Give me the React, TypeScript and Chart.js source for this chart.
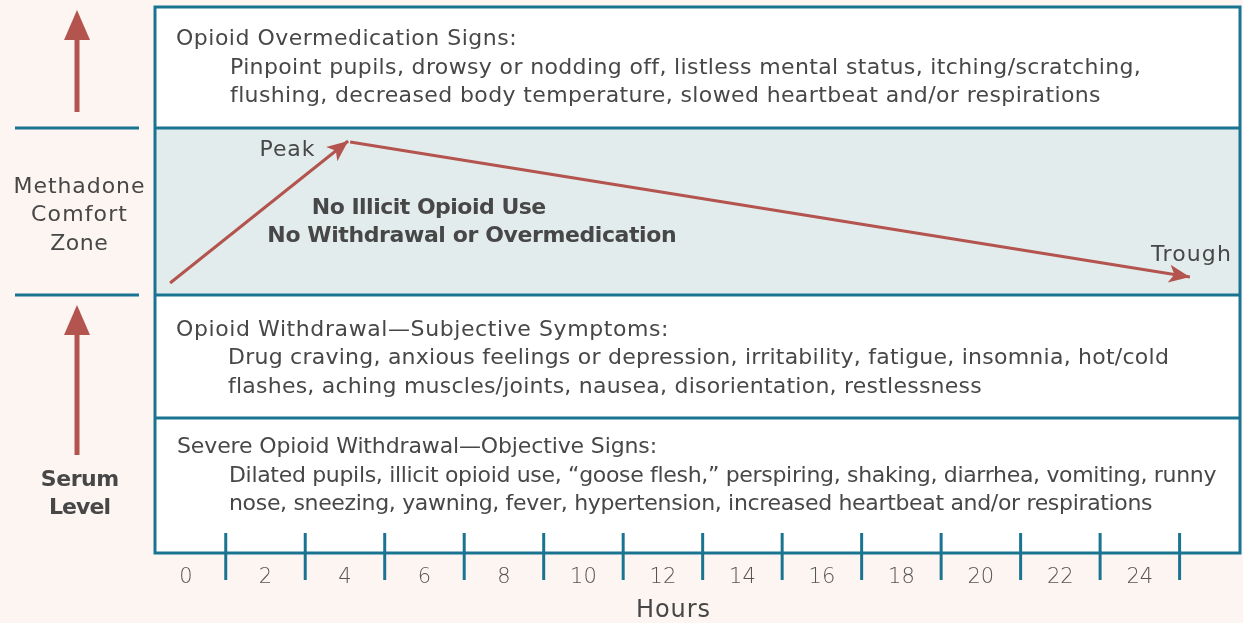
import React, { useEffect, useRef } from 'react';
import { Chart, registerables } from 'chart.js';

Chart.register(...registerables);

// ---- data ----
const hourTicks = [0, 2, 4, 6, 8, 10, 12, 14, 16, 18, 20, 22, 24];
const hourMarks = [1, 3, 5, 7, 9, 11, 13, 15, 17, 19, 21, 23, 25];
const xMin = -0.78;
const xMax = 26.52;
const yMin = 0;
const yMax = 5.46;
// band boundaries in serum-level units (bottom -> top)
const bandBounds = [0, 1.35, 2.58, 4.25, 5.46];
const riseX = [-0.4, 4.08];
const riseY = [2.7, 4.12];
const fallX = [4.13, 25.26];
const fallY = [4.11, 2.76];

const overmedTitle = 'Opioid Overmedication Signs:';
const overmedLines = [
  'Pinpoint pupils, drowsy or nodding off, listless mental status, itching/scratching,',
  'flushing, decreased body temperature, slowed heartbeat and/or respirations',
];
const comfortLines = ['No Illicit Opioid Use', 'No Withdrawal or Overmedication'];
const withdrawalTitle = 'Opioid Withdrawal\u2014Subjective Symptoms:';
const withdrawalLines = [
  'Drug craving, anxious feelings or depression, irritability, fatigue, insomnia, hot/cold',
  'flashes, aching muscles/joints, nausea, disorientation, restlessness',
];
const severeTitle = 'Severe Opioid Withdrawal\u2014Objective Signs:';
const severeLines = [
  'Dilated pupils, illicit opioid use, \u201cgoose flesh,\u201d perspiring, shaking, diarrhea, vomiting, runny',
  'nose, sneezing, yawning, fever, hypertension, increased heartbeat and/or respirations',
];
const zoneLabel = ['Methadone', 'Comfort', 'Zone'];
const serumLabel = ['Serum', 'Level'];
const peakLabel = 'Peak';
const troughLabel = 'Trough';
const xTitle = 'Hours';

const BORDER = '#1a7491';
const ARROW = '#b3544f';
const TEXT = '#474747';
const BAND = '#e3ecec';
const BG = '#fdf5f2';
const FONT = '"DejaVu Sans"';

// draw text stretched (via letter spacing) to a given width
function fitText(ctx: any, text: string, x: number, y: number, width: number) {
  ctx.letterSpacing = '0px';
  const w = ctx.measureText(text).width;
  const n = Array.from(text).length;
  const ls = (width - w) / n;
  ctx.letterSpacing = ls.toFixed(2) + 'px';
  const shift = ctx.textAlign === 'center' ? ls / 2 : 0;
  ctx.fillText(text, x + shift, y + 2);
  ctx.letterSpacing = '0px';
}

function arrowHead(ctx: CanvasRenderingContext2D, x0: number, y0: number, x1: number, y1: number, len: number, half: number) {
  const a = Math.atan2(y1 - y0, x1 - x0);
  const bx = x1 - Math.cos(a) * len;
  const by = y1 - Math.sin(a) * len;
  const nx = -Math.sin(a);
  const ny = Math.cos(a);
  ctx.beginPath();
  ctx.moveTo(x1, y1);
  ctx.lineTo(bx + nx * half, by + ny * half);
  ctx.lineTo(bx + (x1 - bx) * 0.25, by + (y1 - by) * 0.25);
  ctx.lineTo(bx - nx * half, by - ny * half);
  ctx.closePath();
  ctx.fill();
}

function upArrow(ctx: CanvasRenderingContext2D, x: number, yBottom: number, yTip: number) {
  ctx.save();
  ctx.strokeStyle = ARROW;
  ctx.fillStyle = ARROW;
  ctx.lineWidth = 5;
  ctx.beginPath();
  ctx.moveTo(x, yBottom);
  ctx.lineTo(x, yTip + 25);
  ctx.stroke();
  ctx.beginPath();
  ctx.moveTo(x, yTip);
  ctx.lineTo(x + 13, yTip + 30);
  ctx.lineTo(x - 13, yTip + 30);
  ctx.closePath();
  ctx.fill();
  ctx.restore();
}

const diagramPlugin = {
  id: 'diagram',
  beforeDatasetsDraw(chart: any) {
    const { ctx, chartArea: ca, scales } = chart;
    const y = scales.y;
    ctx.save();
    ctx.fillStyle = '#ffffff';
    ctx.fillRect(ca.left, ca.top, ca.right - ca.left, ca.bottom - ca.top);
    const cTop = y.getPixelForValue(bandBounds[3]);
    const cBot = y.getPixelForValue(bandBounds[2]);
    ctx.fillStyle = BAND;
    ctx.fillRect(ca.left, cTop, ca.right - ca.left, cBot - cTop);
    ctx.strokeStyle = BORDER;
    ctx.lineWidth = 3;
    for (let i = 1; i < bandBounds.length - 1; i++) {
      const py = y.getPixelForValue(bandBounds[i]);
      ctx.beginPath();
      ctx.moveTo(ca.left, py);
      ctx.lineTo(ca.right, py);
      ctx.stroke();
    }
    ctx.strokeRect(ca.left, ca.top, ca.right - ca.left, ca.bottom - ca.top);
    ctx.restore();
  },
  afterDatasetsDraw(chart: any) {
    const { ctx } = chart;
    ctx.save();
    ctx.fillStyle = ARROW;
    chart.data.datasets.forEach((_: any, i: number) => {
      const pts = chart.getDatasetMeta(i).data;
      const p0 = pts[pts.length - 2];
      const p1 = pts[pts.length - 1];
      arrowHead(ctx, p0.x, p0.y, p1.x, p1.y, 21, 9);
    });
    ctx.restore();
  },
  afterDraw(chart: any) {
    const { ctx, chartArea: ca, scales } = chart;
    const x = scales.x;
    const y = scales.y;
    ctx.save();
    // odd-hour tick marks
    ctx.strokeStyle = BORDER;
    ctx.lineWidth = 3;
    hourMarks.forEach((h) => {
      const px = x.getPixelForValue(h);
      ctx.beginPath();
      ctx.moveTo(px, ca.bottom - 20);
      ctx.lineTo(px, ca.bottom + 27);
      ctx.stroke();
    });

    ctx.fillStyle = TEXT;
    ctx.textBaseline = 'middle';
    ctx.textAlign = 'left';
    ctx.font = `22px ${FONT}`;
    const L = ca.left;
    // top band
    fitText(ctx, overmedTitle, L + 21, ca.top + 30, 341);
    fitText(ctx, overmedLines[0], L + 75, ca.top + 59, 911);
    fitText(ctx, overmedLines[1], L + 75, ca.top + 87, 871);
    // withdrawal band
    const wTop = y.getPixelForValue(bandBounds[2]);
    fitText(ctx, withdrawalTitle, L + 21, wTop + 33, 493);
    fitText(ctx, withdrawalLines[0], L + 73, wTop + 61, 941);
    fitText(ctx, withdrawalLines[1], L + 73, wTop + 90, 754);
    // severe band
    const sTop = y.getPixelForValue(bandBounds[1]);
    fitText(ctx, severeTitle, L + 22, sTop + 27, 480);
    fitText(ctx, severeLines[0], L + 74, sTop + 56, 987);
    fitText(ctx, severeLines[1], L + 74, sTop + 84, 923);

    // comfort zone texts
    ctx.textAlign = 'center';
    fitText(ctx, peakLabel, 287, y.getPixelForValue(4.05), 56);
    fitText(ctx, troughLabel, 1191, y.getPixelForValue(3.0), 81);
    ctx.font = `bold 22px ${FONT}`;
    fitText(ctx, comfortLines[0], 429, y.getPixelForValue(3.47), 234);
    fitText(ctx, comfortLines[1], 472, y.getPixelForValue(3.19), 409);

    // left side
    ctx.font = `22px ${FONT}`;
    const zoneW = [132, 97, 58];
    zoneLabel.forEach((t, i) => fitText(ctx, t, 79, 185 + i * 28.5, zoneW[i]));
    ctx.font = `bold 22px ${FONT}`;
    const serumW = [78, 61];
    serumLabel.forEach((t, i) => fitText(ctx, t, 80, 478 + i * 28, serumW[i]));
    ctx.strokeStyle = BORDER;
    ctx.lineWidth = 3;
    [bandBounds[3], bandBounds[2]].forEach((b) => {
      const py = y.getPixelForValue(b);
      ctx.beginPath();
      ctx.moveTo(15, py);
      ctx.lineTo(139, py);
      ctx.stroke();
    });
    upArrow(ctx, 77, 112, 10);
    upArrow(ctx, 77, 455, 305);

    // axis title
    ctx.font = `24px ${FONT}`;
    ctx.fillStyle = TEXT;
    fitText(ctx, xTitle, 673, 609, 75);
    ctx.restore();
  },
};

export default function App() {
  const ref = useRef<HTMLCanvasElement>(null);
  useEffect(() => {
    if (!ref.current) return;
    const chart = new Chart(ref.current, {
      type: 'line',
      data: {
        datasets: [
          {
            data: riseX.map((v, i) => ({ x: v, y: riseY[i] })),
            borderColor: ARROW,
            borderWidth: 3,
            pointRadius: 0,
          },
          {
            data: fallX.map((v, i) => ({ x: v, y: fallY[i] })),
            borderColor: ARROW,
            borderWidth: 3,
            pointRadius: 0,
          },
        ],
      },
      options: {
        animation: false,
        responsive: false,
        maintainAspectRatio: false,
        layout: { padding: { left: 155, right: 3, top: 7, bottom: 0 } },
        plugins: { legend: { display: false }, tooltip: { enabled: false } },
        scales: {
          x: {
            type: 'linear',
            min: xMin,
            max: xMax,
            grid: { display: false, drawTicks: false },
            border: { display: false },
            afterBuildTicks: (s: any) => {
              s.ticks = hourTicks.map((v) => ({ value: v }));
            },
            afterFit: (s: any) => {
              s.height = 70;
            },
            ticks: {
              padding: 12,
              color: '#555555',
              autoSkip: false,
              maxRotation: 0,
              font: { family: 'DejaVu Sans', size: 21, weight: '200' },
              callback: (v: any) => String(v),
            },
          },
          y: { type: 'linear', min: yMin, max: yMax, display: false },
        },
      },
      plugins: [diagramPlugin],
    } as any);
    return () => chart.destroy();
  }, []);
  return (
    <div style={{ position: 'fixed', left: 0, top: 0, width: 1243, height: 623, background: BG }}>
      <canvas ref={ref} width={1243} height={623} style={{ display: 'block' }} />
    </div>
  );
}
